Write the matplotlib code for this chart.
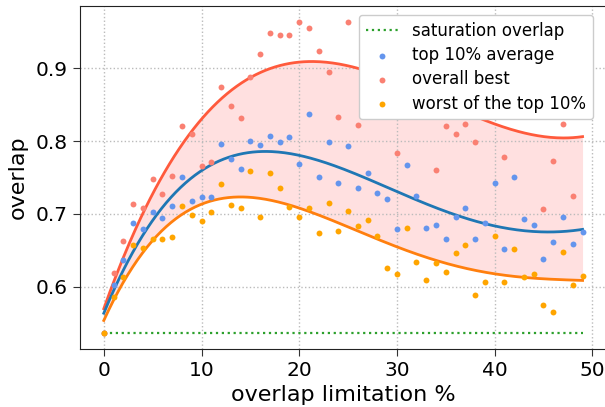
import numpy as np
import matplotlib
matplotlib.use('Agg')
import matplotlib.pyplot as plt

plt.rcParams['font.family'] = ['DejaVu Sans']

# overlap limitation in percent
limitation = np.arange(50)
saturation_overlap = 0.5358

top10_average = [
    0.536, 0.602, 0.637, 0.688, 0.679, 0.703, 0.694, 0.711, 0.750, 0.718,
    0.723, 0.723, 0.796, 0.775, 0.761, 0.800, 0.794, 0.807, 0.799, 0.805,
    0.769, 0.837, 0.751, 0.799, 0.742, 0.793, 0.736, 0.756, 0.729, 0.720,
    0.679, 0.767, 0.725, 0.681, 0.685, 0.666, 0.695, 0.708, 0.666, 0.688,
    0.742, 0.652, 0.751, 0.693, 0.684, 0.638, 0.661, 0.696, 0.659, 0.675,
]

# some of these sit behind the legend, estimated
overall_best = [
    0.536, 0.619, 0.663, 0.714, 0.708, 0.748, 0.727, 0.752, 0.820, 0.810,
    0.765, 0.771, 0.874, 0.848, 0.831, 0.888, 0.920, 0.948, 0.945, 0.946,
    0.964, 0.955, 0.923, 0.895, 0.833, 0.964, 0.822, 0.930, 0.900, 0.920,
    0.784, 0.880, 0.910, 0.870, 0.760, 0.821, 0.810, 0.824, 0.798, 0.880,
    0.900, 0.778, 0.880, 0.890, 0.890, 0.707, 0.773, 0.824, 0.724, 0.845,
]

worst_top10 = [
    0.536, 0.586, 0.613, 0.657, 0.653, 0.666, 0.666, 0.668, 0.711, 0.698,
    0.690, 0.702, 0.741, 0.712, 0.708, 0.759, 0.695, 0.756, 0.735, 0.709,
    0.696, 0.708, 0.674, 0.715, 0.676, 0.704, 0.683, 0.691, 0.670, 0.626,
    0.617, 0.680, 0.634, 0.609, 0.633, 0.620, 0.646, 0.657, 0.589, 0.607,
    0.669, 0.607, 0.652, 0.613, 0.618, 0.575, 0.565, 0.648, 0.602, 0.614,
]


def poly_fit(x, y, xs, deg=4):
    return np.polyval(np.polyfit(x, y, deg), xs)


fig = plt.figure(figsize=(6.05, 4.07), dpi=100)
ax = fig.add_axes([0.132, 0.1425, 0.8705, 0.8428])

xs = np.linspace(limitation[0], limitation[-1], 300)
best_fit = poly_fit(limitation, overall_best, xs)
avg_fit = poly_fit(limitation, top10_average, xs)
worst_fit = poly_fit(limitation, worst_top10, xs)

ax.fill_between(xs, worst_fit, best_fit, color='red', alpha=0.12,
                linewidth=0, zorder=1)
ax.plot(limitation, [saturation_overlap] * len(limitation), ':',
        color='#2ca02c', linewidth=1.6, label='saturation overlap', zorder=2)
ax.plot(xs, best_fit, color='#ff5a3c', linewidth=2, zorder=2)
ax.plot(xs, avg_fit, color='#1f77b4', linewidth=2, zorder=2)
ax.plot(xs, worst_fit, color='#ff7f0e', linewidth=2, zorder=2)

ax.scatter(limitation, top10_average, s=18, color='cornflowerblue',
           linewidths=0, label='top 10% average', zorder=3)
ax.scatter(limitation, overall_best, s=18, color='salmon',
           linewidths=0, label='overall best', zorder=3)
ax.scatter(limitation, worst_top10, s=18, color='orange',
           linewidths=0, label='worst of the top 10%', zorder=3)

ax.set_xlabel('overlap limitation %', fontsize=16, labelpad=4)
ax.set_ylabel('overlap', fontsize=16, labelpad=6)
ax.set_xticks([0, 10, 20, 30, 40, 50])
ax.set_yticks([0.6, 0.7, 0.8, 0.9])
ax.tick_params(labelsize=14.5, direction='out', length=5, color='#333333')
ax.grid(True, linestyle=':', color='#bbbbbb', linewidth=1)
for side in ['left', 'bottom', 'top']:
    ax.spines[side].set_color('#222222')

ax.legend(loc='upper right', fontsize=12, labelspacing=0.38,
          bbox_to_anchor=(593 / 605, 1 - 15 / 407),
          bbox_transform=fig.transFigure, borderaxespad=0, framealpha=1)

fig.savefig('out.png', dpi=100)
